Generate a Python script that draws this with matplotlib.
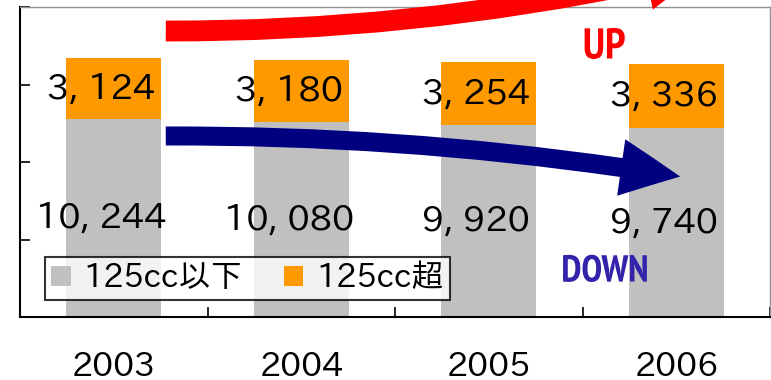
import matplotlib
matplotlib.use("Agg")
import matplotlib.pyplot as plt
from matplotlib.patches import FancyArrowPatch
import matplotlib.patheffects as pe
import numpy as np

plt.rcParams['font.family'] = ['IPAPGothic', 'Noto Sans CJK JP', 'DejaVu Sans']

years = ["2003", "2004", "2005", "2006"]
small = [10244, 10080, 9920, 9740]     # 125cc以下
large = [3124, 3180, 3254, 3336]       # 125cc超
series_names = ["125cc以下", "125cc超"]
ytick_vals = [0, 4000, 8000, 12000, 16000]

W, H = 771, 380
fig = plt.figure(figsize=(W / 100, H / 100), dpi=100)
ax = fig.add_axes([20 / W, (H - 317) / H, 750 / W, 310 / H])

x = np.arange(len(years))
bw = 0.505
ax.bar(x, small, bw, color="#C0C0C0", label=series_names[0], zorder=2)
ax.bar(x, large, bw, bottom=small, color="#FF9900", label=series_names[1], zorder=2)

def fmt(v):
    return "{:,}".format(v).replace(",", ", ")

for i in range(len(years)):
    ax.annotate(fmt(small[i]), xy=(x[i], small[i] / 2), xytext=(-9, 0),
                textcoords="offset points", ha="center", va="center",
                fontsize=25.5, color="black", zorder=5)
    ax.annotate(fmt(large[i]), xy=(x[i], small[i] + large[i] / 2), xytext=(-9, 0),
                textcoords="offset points", ha="center", va="center",
                fontsize=25.5, color="black", zorder=5)

ax.set_xlim(-0.5, len(years) - 0.5)
ax.set_ylim(ytick_vals[0], ytick_vals[-1])
ax.set_xticks(x)
ax.set_xticklabels(years, fontsize=24)
ax.set_xticks(np.arange(-0.5, len(years), 1.0), minor=True)
ax.tick_params(axis="x", which="major", length=0, pad=25)
ax.tick_params(axis="x", which="minor", direction="in", length=7, width=1.2, color="black")
ax.set_yticks(ytick_vals)
ax.set_yticklabels([])
ax.tick_params(axis="y", direction="in", length=7, width=1.2, color="black")

for s in ["left", "bottom"]:
    ax.spines[s].set_color("black")
    ax.spines[s].set_linewidth(1.5)
for s in ["top", "right"]:
    ax.spines[s].set_color("#909090")
    ax.spines[s].set_linewidth(1.0)

leg = ax.legend(loc="upper left", bbox_to_anchor=((45 - 20) / 750, (317 - 257) / 310),
                ncol=2, fontsize=23, frameon=True, fancybox=False,
                handlelength=0.6, handleheight=0.6, handletextpad=0.4,
                columnspacing=1.3, borderpad=0.2, borderaxespad=0)
leg.get_frame().set_edgecolor("black")
leg.get_frame().set_linewidth(1.5)
leg.set_zorder(6)

def px(xp, yp):
    return (xp / W, 1 - yp / H)

red = FancyArrowPatch(px(163, 31), px(708, -32), transform=fig.transFigure,
                      connectionstyle="arc3,rad=0.06",
                      arrowstyle="simple,head_width=41,head_length=43,tail_width=15",
                      mutation_scale=1, color="#FF0000", lw=0, zorder=10)
fig.add_artist(red)

blue = FancyArrowPatch(px(163, 136), px(683, 177), transform=fig.transFigure,
                       connectionstyle="arc3,rad=-0.042",
                       arrowstyle="simple,head_width=41,head_length=43,tail_width=13.7",
                       mutation_scale=1, color="#000080", lw=0, zorder=10)
fig.add_artist(blue)

shadow = [pe.SimpleLineShadow(offset=(1.5, -1.5), shadow_color="#C8C8C8", alpha=1), pe.Normal()]
fig.text(*px(604, 48), "UP", fontsize=31, fontweight="bold", color="#FF0000",
         family="PT Sans Narrow", ha="center", va="center", path_effects=shadow)
fig.text(*px(605, 272), "DOWN", fontsize=27, fontweight="bold", color="#3322AA",
         family="PT Sans Narrow", ha="center", va="center", path_effects=shadow)

fig.savefig("out.png", dpi=100)
